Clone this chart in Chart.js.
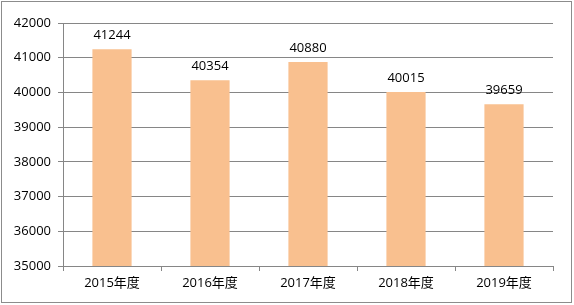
<!DOCTYPE html>
<html><head><meta charset="utf-8">
<script src="https://cdn.jsdelivr.net/npm/chart.js@4/dist/chart.umd.min.js"></script>
<style>html,body{margin:0;padding:0;background:#fff;}#wrap{width:574px;height:305px;position:relative;}</style>
</head><body><div id="wrap"><canvas id="c" width="574" height="305"></canvas></div>
<script>
const categories = ["2015年度","2016年度","2017年度","2018年度","2019年度"];
const values = [41244, 40354, 40880, 40015, 39659];
const yMin = 35000, yMax = 42000, yStep = 1000;

const borderPlugin = {
  id: 'frame',
  afterDraw(chart){
    const ctx = chart.ctx;
    ctx.save();
    ctx.strokeStyle = '#8c8c8c';
    ctx.lineWidth = 1;
    ctx.strokeRect(1.5, 1.5, 570, 301);
    ctx.restore();
  }
};
const labelPlugin = {
  id: 'vals',
  afterDatasetsDraw(chart){
    const ctx = chart.ctx;
    const meta = chart.getDatasetMeta(0);
    ctx.save();
    ctx.font = '13px "Open Sans", sans-serif';
    ctx.fillStyle = '#000';
    ctx.textAlign = 'center';
    ctx.textBaseline = 'bottom';
    meta.data.forEach((bar, i) => {
      ctx.fillText(String(values[i]), bar.x, bar.y - 7);
    });
    ctx.restore();
  }
};

new Chart(document.getElementById('c'), {
  type: 'bar',
  data: { labels: categories, datasets: [{ data: values, backgroundColor: '#F9C08F', barPercentage: 0.4, categoryPercentage: 1.0 }] },
  options: {
    responsive: false, animation: false,
    layout: { padding: { top: 23, right: 21, left: 0, bottom: 0 } },
    plugins: { legend: { display: false }, tooltip: { enabled: false } },
    scales: {
      x: {
        grid: { display: true, drawOnChartArea: false, drawTicks: true, tickLength: 5, color: '#868686', offset: true },
        border: { display: true, color: '#868686' },
        ticks: { color: '#000', font: { family: '"Open Sans", "Noto Sans CJK SC", sans-serif', size: 13 }, padding: 4 },
        afterFit(s){ s.height = 39; }
      },
      y: {
        min: yMin, max: yMax,
        grid: { color: '#868686', drawTicks: true, tickLength: 5 },
        border: { display: true, color: '#868686' },
        ticks: { stepSize: yStep, color: '#000', font: { family: '"Open Sans", sans-serif', size: 13 }, padding: 7,
          callback: (v) => String(v) },
        afterFit(s){ s.width = 63; }
      }
    }
  },
  plugins: [borderPlugin, labelPlugin]
});
</script></body></html>
